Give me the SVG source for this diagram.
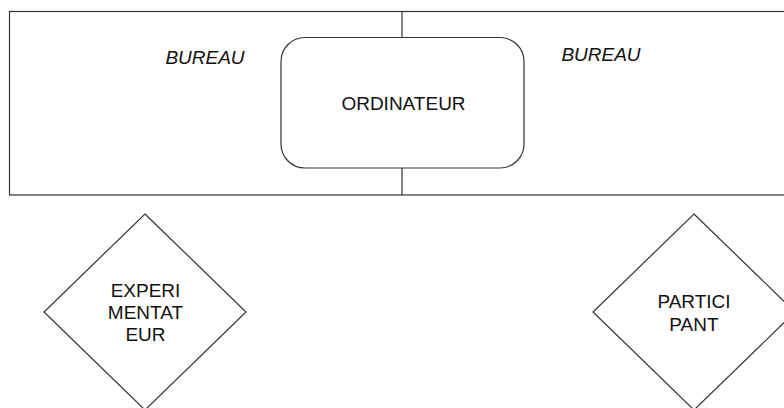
<svg xmlns="http://www.w3.org/2000/svg" width="784" height="408" viewBox="0 0 784 408">
<style>
.s{fill:#fff;stroke:#333;stroke-width:1.2}
.l{stroke:#333;stroke-width:1.2;fill:none}
text{font-family:"Liberation Sans",Arial,sans-serif;font-size:19px;fill:#111;text-anchor:middle}
.i{font-style:italic}
</style>
<rect width="784" height="408" fill="#fff"/>
<g id="desk">
<rect class="s" x="9.5" y="11.5" width="800" height="183.5"/>
<text class="i" x="205" y="64">BUREAU</text>
<text class="i" x="601" y="61">BUREAU</text>
</g>
<g id="connectors">
<line class="l" x1="402" y1="11.5" x2="402" y2="37.5"/>
<line class="l" x1="402" y1="168" x2="402" y2="195"/>
</g>
<g id="ordinateur">
<rect class="s" x="281" y="37.5" width="243" height="130.5" rx="24" ry="24"/>
<text x="403.5" y="110">ORDINATEUR</text>
</g>
<g id="experimentateur">
<polygon class="s" points="145,214 246,312 145,410 44,312"/>
<text x="145.5" y="297">EXPERI</text>
<text x="145.5" y="319">MENTAT</text>
<text x="145.5" y="341">EUR</text>
</g>
<g id="participant">
<polygon class="s" points="694,214 795,312 694,410 593,312"/>
<text x="694" y="308">PARTICI</text>
<text x="694" y="331">PANT</text>
</g>
</svg>
